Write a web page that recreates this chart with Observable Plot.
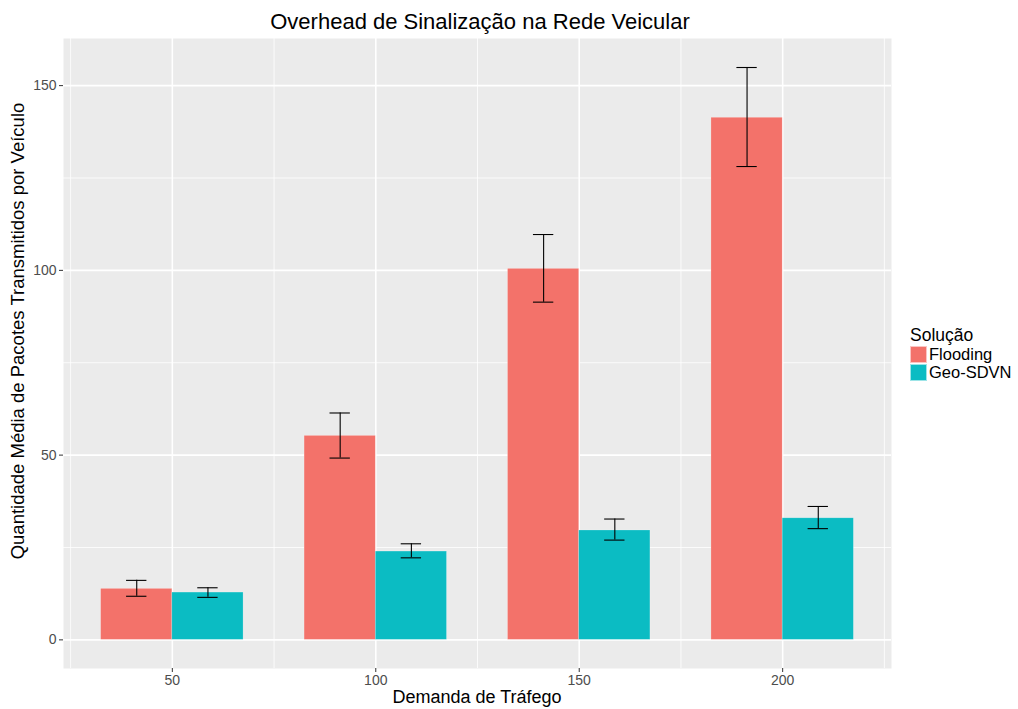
<!DOCTYPE html>
<html><head><meta charset="utf-8">
<script src="https://cdn.jsdelivr.net/npm/d3@7"></script>
<script src="https://cdn.jsdelivr.net/npm/@observablehq/plot@0.6"></script>
<style>
body{margin:0;background:#fff;font-family:"Liberation Sans",Arial,Helvetica,sans-serif;}
#wrap{position:relative;width:1018px;height:709px;overflow:hidden;}
#chart{position:absolute;left:0;top:0;}
.t{position:absolute;white-space:nowrap;color:#000;line-height:1;}
#title{left:480px;top:11px;transform:translateX(-50%);font-size:22px;}
#xlab{left:477px;top:688px;transform:translateX(-50%);font-size:18px;}
#ylab{left:18px;top:331px;transform:translate(-50%,-50%) rotate(-90deg);font-size:18.5px;}
#legend{position:absolute;left:910px;top:327px;width:108px;font-size:16.5px;line-height:1;white-space:nowrap;}
#legend .k{display:flex;align-items:center;height:18px;white-space:nowrap;}
#legend .sw{flex:none;width:17px;height:17px;margin-right:2px;border:1px solid rgba(255,255,255,0.6);box-sizing:border-box;}
</style></head>
<body><div id="wrap"><div id="chart"></div>
<div class="t" id="title">Overhead de Sinalização na Rede Veicular</div>
<div class="t" id="xlab">Demanda de Tráfego</div>
<div class="t" id="ylab">Quantidade Média de Pacotes Transmitidos por Veículo</div>
<div id="legend"></div>
</div>
<script>
const demands = [50, 100, 150, 200];
const solutions = ["Flooding", "Geo-SDVN"];
const colors = ["#F3726A", "#0BBCC3"];
const floodingMean = [13.8, 55.2, 100.4, 141.3];
const floodingLow = [11.8, 49.2, 91.4, 128.1];
const floodingHigh = [16.1, 61.4, 109.7, 154.9];
const geoMean = [12.8, 23.9, 29.6, 32.9];
const geoLow = [11.5, 22.2, 27.0, 30.1];
const geoHigh = [14.1, 26.0, 32.7, 36.1];
const xTicks = [50, 100, 150, 200];
const yTicks = [0, 50, 100, 150];
const xMinor = [25, 75, 125, 175, 225];
const yMinor = [25, 75, 125];

const dodge = 35;   // total dodge width in x units
const capW = 5;     // error bar cap width in x units

const rows = [];
demands.forEach((d, i) => {
  rows.push({demand: d, sol: solutions[0], k: 0, mean: floodingMean[i], lo: floodingLow[i], hi: floodingHigh[i]});
  rows.push({demand: d, sol: solutions[1], k: 1, mean: geoMean[i], lo: geoLow[i], hi: geoHigh[i]});
});
const bx1 = r => r.demand - dodge / 2 + r.k * dodge / 2;
const bx2 = r => r.demand + r.k * dodge / 2;
const cx = r => r.demand - dodge / 4 + r.k * dodge / 2;

const plot = Plot.plot({
  width: 1018, height: 709,
  marginLeft: 63, marginRight: 127, marginTop: 38, marginBottom: 41,
  style: {fontFamily: '"Liberation Sans", Arial, sans-serif', background: "transparent"},
  x: {type: "linear", domain: [23.25, 226.75]},
  y: {domain: [-7.75, 162.75]},
  color: {domain: solutions, range: colors},
  marks: [
    Plot.frame({fill: "#EBEBEB", stroke: null}),
    Plot.ruleX(xMinor, {stroke: "#fff", strokeWidth: 0.8}),
    Plot.ruleY(yMinor, {stroke: "#fff", strokeWidth: 0.8}),
    Plot.ruleX(xTicks, {stroke: "#fff", strokeWidth: 1.6}),
    Plot.ruleY(yTicks, {stroke: "#fff", strokeWidth: 1.6}),
    Plot.rectY(rows, {x1: bx1, x2: bx2, y1: 0, y2: "mean", fill: "sol", stroke: "#fff", strokeOpacity: 0.35, strokeWidth: 0.6}),
    Plot.ruleX(rows, {x: cx, y1: "lo", y2: "hi", stroke: "#000", strokeWidth: 1.1}),
    Plot.ruleY(rows, {y: "hi", x1: r => cx(r) - capW / 2, x2: r => cx(r) + capW / 2, stroke: "#000", strokeWidth: 1.1}),
    Plot.ruleY(rows, {y: "lo", x1: r => cx(r) - capW / 2, x2: r => cx(r) + capW / 2, stroke: "#000", strokeWidth: 1.1}),
    Plot.axisX({ticks: xTicks, tickSize: 4, tickPadding: 3, stroke: "#333", fill: "#4D4D4D", fontSize: 14, label: null}),
    Plot.axisY({ticks: yTicks, tickSize: 4, tickPadding: 3, stroke: "#333", fill: "#4D4D4D", fontSize: 14, label: null})
  ]
});
document.getElementById("chart").appendChild(plot);

const leg = document.getElementById("legend");
leg.innerHTML = '<div style="margin-bottom:1px;font-size:17.5px">Solução</div>' +
  solutions.map((s, i) => `<div class="k"><div class="sw" style="background:${colors[i]}"></div><span>${s}</span></div>`).join("");
</script>
</body></html>
